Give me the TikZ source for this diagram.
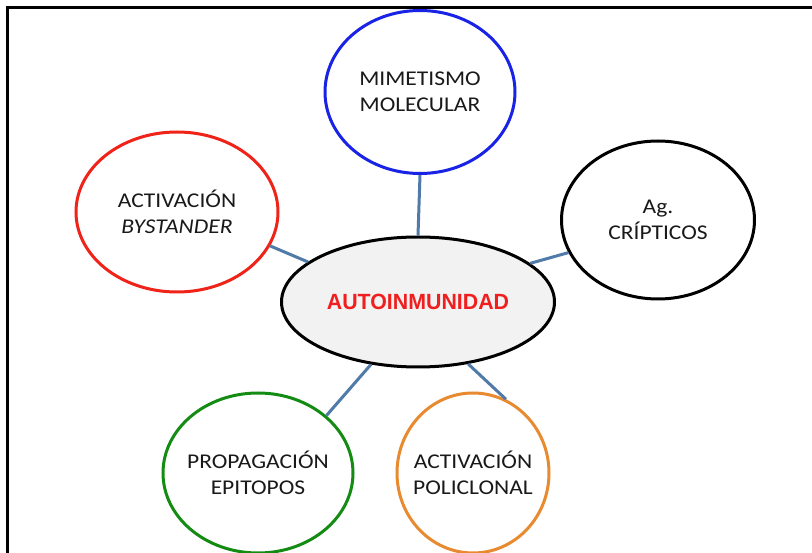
\documentclass[tikz,border=0pt]{standalone}
\usepackage{fontspec}
\setmainfont[FakeStretch=1.12]{Carlito}
\newfontfamily\titlefont[FakeStretch=0.97]{Liberation Sans}
\usetikzlibrary{shapes.geometric}
\definecolor{cblue}{RGB}{25,35,230}
\definecolor{cred}{RGB}{240,35,25}
\definecolor{cgreen}{RGB}{20,140,20}
\definecolor{corange}{RGB}{232,138,48}
\definecolor{clink}{RGB}{80,122,168}
\definecolor{cfill}{RGB}{242,242,242}
\definecolor{ctitle}{RGB}{240,30,30}
\tikzset{
  bubble/.style={ellipse, line width=3pt, inner sep=0pt, fill=white},
  labtext/.style={align=center, inner sep=0pt, font=\fontsize{21}{26}\selectfont, text=black!90},
  link/.style={draw=clink, line width=3pt},
  frame/.style={draw=black, line width=2.5pt}
}
\begin{document}
\begin{tikzpicture}[x=1pt,y=-1pt]
\useasboundingbox (0,0) rectangle (812,553);
\fill[white] (0,0) rectangle (812,553);
\draw[frame] (7.5,553) -- (7.5,7.5) -- (812,7.5);

\node[bubble, draw=cblue, minimum width=190pt, minimum height=163pt,
  label={[labtext]center:MIMETISMO\\MOLECULAR}] (mim) at (420,92) {};
\node[bubble, draw=cred, minimum width=202pt, minimum height=160pt,
  label={[labtext]center:ACTIVACIÓN\\\textit{BYSTANDER}}] (bys) at (177,212) {};
\node[bubble, draw=black, minimum width=193pt, minimum height=158pt,
  label={[labtext]center:Ag.\\CRÍPTICOS}] (cri) at (658,220) {};
\node[bubble, draw=cgreen, minimum width=190pt, minimum height=160pt,
  label={[labtext]center:PROPAGACIÓN\\EPITOPOS}] (epi) at (258,473) {};
\node[bubble, draw=corange, minimum width=152pt, minimum height=160pt,
  label={[labtext]center:ACTIVACIÓN\\POLICLONAL}] (pol) at (473,473) {};
\node[ellipse, draw=black, line width=3pt, fill=cfill, inner sep=0pt, minimum width=273pt, minimum height=130pt,
  font=\titlefont\bfseries\fontsize{22}{26}\selectfont, text=ctitle] (auto) at (418,302) {AUTOINMUNIDAD};

\draw[link] (mim.south) -- (auto.90);
\draw[link] (bys.-20.6) -- (auto.160);
\draw[link] (cri.-160.8) -- (auto.19);
\draw[link] (epi.40) -- (auto.-127);
\draw[link] (pol.66) -- (auto.-51);
\end{tikzpicture}
\end{document}
